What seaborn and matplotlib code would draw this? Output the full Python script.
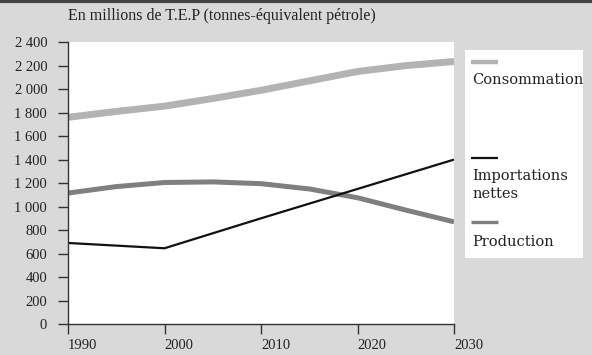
import matplotlib
matplotlib.use("Agg")
import matplotlib.pyplot as plt
import matplotlib.ticker as mticker
import pandas as pd
import seaborn as sns

years_5 = [1990, 1995, 2000, 2005, 2010, 2015, 2020, 2025, 2030]
consommation = [1760, 1810, 1855, 1920, 1990, 2070, 2150, 2200, 2235]
production = [1115, 1170, 1205, 1210, 1195, 1150, 1075, 970, 870]
years_10 = [1990, 2000, 2010, 2020, 2030]
importations = [690, 645, 900, 1150, 1400]

y_ticks = list(range(0, 2401, 200))
x_ticks = [1990, 2000, 2010, 2020, 2030]
title = "En millions de T.E.P (tonnes-équivalent pétrole)"
legend_labels = ["Consommation", "Importations\nnettes", "Production"]

bg = "#d9d9d9"
txt = "#222222"
c_cons = "#b3b3b3"
c_prod = "#7f7f7f"
c_imp = "#111111"

sns.set_style("ticks")
plt.rcParams["font.family"] = ["Liberation Serif", "DejaVu Serif"]

fig = plt.figure(figsize=(5.92, 3.55), dpi=100, facecolor=bg)
ax = fig.add_axes([0.1149, 0.0873, 0.652, 0.794])
ax.set_facecolor("white")

df_cp = pd.DataFrame({"annee": years_5, "cons": consommation, "prod": production})
df_imp = pd.DataFrame({"annee": years_10, "imp": importations})

sns.lineplot(data=df_cp, x="annee", y="cons", ax=ax, color=c_cons, linewidth=5,
             solid_capstyle="butt")
sns.lineplot(data=df_cp, x="annee", y="prod", ax=ax, color=c_prod, linewidth=3.6,
             solid_capstyle="butt")
sns.lineplot(data=df_imp, x="annee", y="imp", ax=ax, color=c_imp, linewidth=1.6,
             solid_capstyle="butt")

ax.set_xlim(1990, 2030)
ax.set_ylim(0, 2400)
ax.set_xticks(x_ticks)
ax.set_yticks(y_ticks)
ax.yaxis.set_major_formatter(
    mticker.FuncFormatter(lambda v, p: f"{int(v):,}".replace(",", " ")))
ax.set_xlabel("")
ax.set_ylabel("")
ax.tick_params(axis="y", direction="out", length=7, width=1, pad=8,
               labelsize=10.5, colors="#333333", labelcolor=txt)
ax.tick_params(axis="x", direction="out", length=7, width=1, pad=4,
               labelsize=10.5, colors="#333333", labelcolor=txt)
for lbl in ax.get_xticklabels():
    lbl.set_horizontalalignment("left")
for side in ["top", "right"]:
    ax.spines[side].set_visible(False)
for side in ["left", "bottom"]:
    ax.spines[side].set_color("#333333")
    ax.spines[side].set_linewidth(1)

fig.text(0.1149, 0.955, title, fontsize=11.5, color=txt, va="center", ha="left")
fig.add_artist(plt.Line2D([0, 1], [0.997, 0.997], color="#444444", linewidth=3))

# legend panel
lax = fig.add_axes([0.7855, 0.273, 0.1993, 0.586])
lax.set_facecolor("white")
lax.set_xlim(0, 1)
lax.set_ylim(0, 1)
lax.set_xticks([])
lax.set_yticks([])
for s in lax.spines.values():
    s.set_visible(False)

entries = [
    (legend_labels[0], c_cons, 3.2, 0.942, 0.856),
    (legend_labels[1], c_imp, 1.6, 0.48, 0.351),
    (legend_labels[2], c_prod, 2.4, 0.173, 0.077),
]
for label, color, lw, ly, ty in entries:
    lax.plot([0.05, 0.28], [ly, ly], color=color, linewidth=lw,
             solid_capstyle="butt")
    lax.text(0.06, ty, label, fontsize=10.5, color=txt, va="center", ha="left",
             linespacing=1.35, family=["DejaVu Serif"], clip_on=True)

fig.savefig("out.png", dpi=100, facecolor=bg)
